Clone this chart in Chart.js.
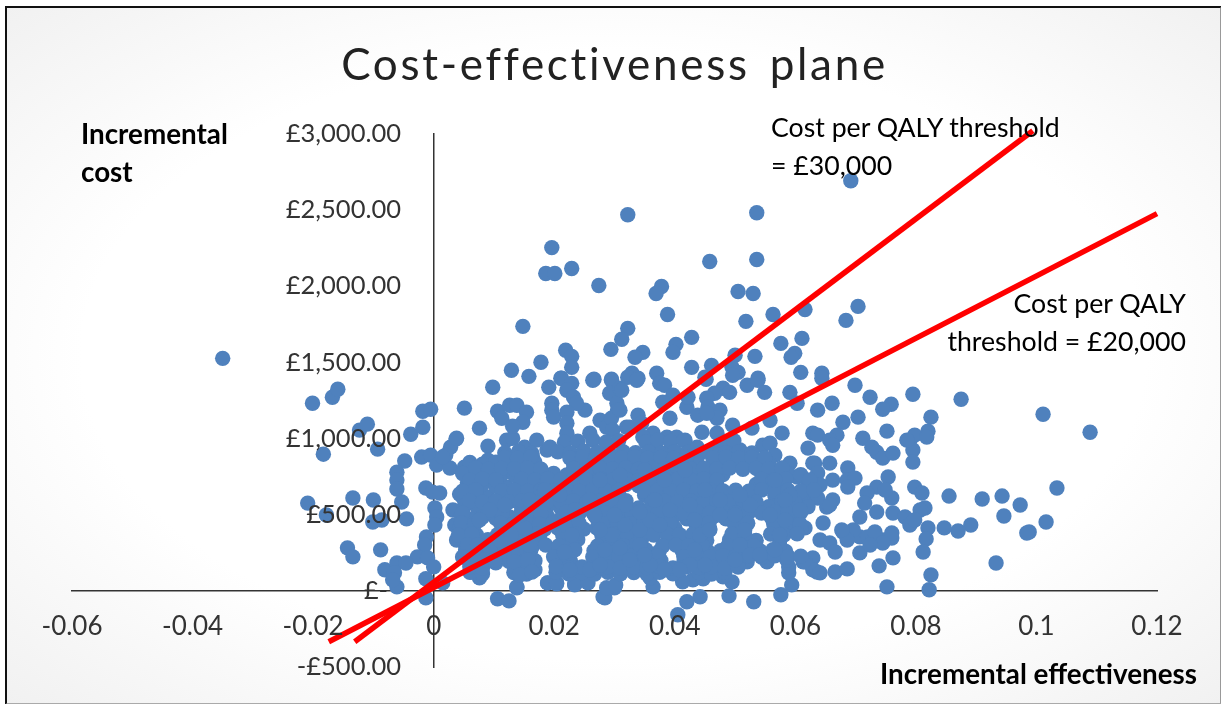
<!DOCTYPE html>
<html>
<head>
<meta charset="utf-8">
<title>Cost-effectiveness plane</title>
<script src="https://cdn.jsdelivr.net/npm/chart.js@4"></script>
<style>
  html, body { margin: 0; padding: 0; background: #fff; }
  #frame {
    position: absolute; left: 5px; top: 6px; width: 1213px; height: 695px;
    border-top: 2px solid #111; border-left: 2px solid #111;
    border-right: 2px solid #999; border-bottom: 2px solid #aaa;
    background: radial-gradient(ellipse at 50% 50%, #fff 62%, #f1f1f1 100%);
  }
  #plane { position: absolute; left: 0; top: 0; }
  .note { position: absolute; font-family: Lato, sans-serif; color: #000; white-space: nowrap; font-size: 26.7px; line-height: 38px; }
  .bold { font-weight: 700; font-size: 27.8px; }
</style>
</head>
<body>
<div id="frame"></div>
<canvas id="plane" width="1221" height="704"></canvas>
<div class="note bold" style="left:81px;top:115px">Incremental<br>cost</div>
<div class="note" style="left:771px;top:108px">Cost per QALY threshold<br>= £30,000</div>
<div class="note" style="right:35px;top:284px;text-align:right">Cost per QALY<br>threshold = £20,000</div>
<div class="note bold" style="right:24px;top:655px">Incremental effectiveness</div>
<script>
// ===== AXIS LABELS =====
// trailing spaces come from the accounting number format
const pad = '\u00a0'.repeat(5);
const xTickLabels = ['-0.06', '-0.04', '-0.02', '0', '0.02', '0.04', '0.06', '0.08', '0.1', '0.12'];
const yTickLabels = ['-£500.00' + pad, '£-' + pad + '\u00a0\u00a0', '£500.00' + pad, '£1,000.00' + pad, '£1,500.00' + pad, '£2,000.00' + pad, '£2,500.00' + pad, '£3,000.00' + pad];

// ===== THRESHOLD LINES [effectiveness, cost] =====
const lineThirty = [[-0.0131, -334], [0.0994, 3020]];
const lineTwenty = [[-0.0174, -334], [0.12, 2476]];

// ===== SIMULATION POINTS [effectiveness, cost] =====
const topPoints = [
  [.0322,2469],[.0536,2482],[.0692,2692],[.0196,2253],[.0186,2083],[.0201,2083],[.0229,2116],[.0274,2004],
  [.0378,1998],[.0369,1952],[.0458,2162],[.0536,2175],[.0505,1965],[.0530,1952],[.0388,1814],[.0563,1814],
  [.0616,1847],[.0518,1769],[.0704,1867],[.0684,1775],[.0148,1736],[.0322,1723],[.0312,1651],[.0294,1585],
  [.0428,1664],[.0402,1618],[.0397,1565],[.0219,1579],[.0229,1539],[.0229,1467],[.0347,1565],[.0334,1533],
  [.0576,1624],[.0611,1657],[.0599,1559],[.0593,1533],[.0533,1539],[.05,1546],[.0178,1500],[.0129,1448],
  [.0158,1408],[.0428,1467],[.0461,1480],[.0609,1434],[.0644,1428],[.0644,1395],[.0495,1467],[.0505,1434],
  [.0496,1415],[.037,1428],[.0329,1428],[.0322,1402],[.0339,1395],[.0212,1395],[.0266,1389],[.0295,1389],
  [.0538,1395],[.0699,1349],[.045,1402]
];
const leftPoints = [
  [-.035,1526],[-.0201,1231],[-.0168,1271],[-.0159,1323],[-.0123,1055],[-.011,1094],[-.0093,930],[-.0183,897],
  [-.0018,1179],[-.0005,1192],[.0051,1199],[-.0038,1028],[-.0018,1074],[.0076,1068],[-.0048,852],[-.0061,779],
  [-.0061,727],[-.0061,668],[-.002,878],[-.0005,891],[.0037,996],[.0028,943],[.002,891],[.0005,825],
  [.0027,806],[.0051,812],[.009,950],[-.0209,576],[-.0134,609],[-.01,596],[-.0053,583],[-.0178,498],
  [-.0101,452],[-.0086,465],[-.0045,472],[-.0143,282],[-.0134,223],[-.0088,269],[-.0013,675],[-.0002,648],
  [.001,642],[.0002,544],[.0005,485],[.0002,432],[-.0012,354],[-.0015,301],[-.0027,223],[-.001,216],
  [0,157],[-.0081,138],[-.0061,183],[-.0046,183],[-.0065,118],[-.0061,26],[-.0068,72],[-.0013,79],
  [-.0013,-46],[.0015,52],[.0106,-52],[.0125,-66],[.0138,20],[.0189,52],[.0204,46],[.0234,46]
];
const upperLeftPoints = [
  [.0043,635],[.0056,707],[.008,747],[.0032,531],[.0046,498],[.0035,432],[.0038,334],[.0051,314],
  [.0071,367],[.0065,583],[.0076,485],[.009,616],[.0105,550],[.0098,727],[.0121,681],[.009,845],
  [.011,825],[.0121,989],[.0131,1002],[.0146,858],[.0151,943],[.0171,989],[.0188,924],[.0164,773],
  [.0143,707],[.0181,773],[.0098,1336],[.0191,1336],[.0211,1395],[.0229,1362],[.0221,1317],[.0232,1271],
  [.0196,1231],[.0196,1186],[.0199,1140],[.0251,1186],[.0237,1231],[.0221,1172],[.0221,1100],[.0221,1035],
  [.0217,976],[.0264,1382],[.0295,1382],[.0106,1179],[.0113,1133],[.0126,1218],[.0138,1218],[.0154,1172],
  [.0148,1107],[.0131,1081],[.0138,871],[.0164,878],[.0193,943],[.009,858],[.0038,1002],[.0015,878],
  [.0292,1297],[.0309,1330],[.0304,1231],[.0305,1186],[.0276,1120],[.0287,1074],[.0295,1133],[.032,1074],
  [.0259,1035],[.0297,1055],[.0337,1382],[.0312,1317],[.0309,1186],[.0339,1153],[.0325,1074],[.0345,1100]
];
const upperRightPoints = [
  [.0375,1362],[.0383,1349],[.0452,1389],[.052,1349],[.0538,1382],[.0549,1303],[.0591,1303],[.0603,1231],
  [.0637,1186],[.0661,1231],[.0397,1284],[.038,1238],[.042,1205],[.0422,1271],[.048,1330],[.0491,1303],
  [.0466,1297],[.0453,1264],[.0455,1205],[.0475,1186],[.0438,1153],[.047,1133],[.0453,1166],[.0392,1133],
  [.0496,1087],[.0445,1041],[.047,1035],[.0528,1068],[.0558,1120],[.0578,1035],[.0546,956],[.0558,969],
  [.0566,891],[.0591,838],[.0621,937],[.0629,1035],[.0632,838],[.0541,838],[.0364,1035],[.0387,1009],
  [.0417,989],[.0403,1009],[.0347,1009],[.0491,943],[.0508,924],[.0437,943],[.042,904],[.0392,924],[.0364,924]
];
const rightPoints = [
  [.0724,1271],[.0759,1225],[.0745,1192],[.0795,1290],[.0875,1258],[.1011,1159],[.1089,1041],[.0704,1140],
  [.0679,1107],[.0752,1048],[.0637,1022],[.0669,1022],[.0657,989],[.0662,956],[.0712,1002],[.0727,943],
  [.0735,910],[.0745,871],[.0762,904],[.079,989],[.0798,1022],[.0795,924],[.0795,845],[.0825,1140],
  [.082,1048],[.0818,1009],[.0785,989],[.0574,779],[.0603,747],[.0629,838],[.0657,838],[.0687,806],
  [.0637,773],[.0629,707],[.0662,727],[.0686,727],[.0699,740],[.0754,747],[.0798,681],[.076,609],
  [.0735,681],[.0719,642],[.0687,681],[.0662,596],[.0652,550],[.0629,629],[.0619,576],[.0646,445],
  [.0616,413],[.0707,485],[.0679,386],[.0707,354],[.0735,517],[.0762,511],[.0782,485],[.079,432],
  [.0696,400],[.072,354],[.0745,334],[.076,347],[.0641,334],[.0657,314],[.0666,255],[.0686,334],
  [.0707,249],[.0729,334],[.0629,216],[.0636,124],[.0666,124],[.0686,144],[.0739,164],[.0762,216],
  [.0749,662],[.0715,576],[.0616,596],[.0637,609],[.0657,563],[.0677,400],[.0732,386],[.076,380],
  [.0745,314],[.0724,301],[.0616,190],[.0629,138],[.0641,118]
];
const farRightPoints = [
  [.081,642],[.0855,622],[.091,603],[.0943,622],[.0973,563],[.0946,491],[.1034,675],[.1016,452],
  [.0988,386],[.0984,380],[.0933,183],[.0891,432],[.087,393],[.0847,413],[.0815,544],[.0807,531],
  [.0798,465],[.082,413],[.0817,341],[.0812,255],[.0825,105],[.0822,7]
];
const axisEdgePoints = [
  [.0752,26],[.0594,39],[.0576,-26],[.0531,-72],[.049,-33],[.0442,-39],[.042,-72],[.0405,-157],
  [.043,72],[.0447,79],[.0413,59],[.0364,26],[.0359,85],[.03,20],[.0284,-46],[.0495,59],
  [.048,92],[.0589,118],[.0589,157],[.052,190],[.0553,190],[.0586,203],[.0613,190],
  [.0076,85],[.0063,124],[.0138,26],[.0168,138],[.0189,52],[.0204,52],[.0234,39],[.0256,52],
  [.0281,-40],[.0287,20],[.0302,39]
];

// dense middle of the cloud, where single points can no longer be told apart
const coreUpper = [
  [.0239,982],[.0264,990],[.0286,975],[.0307,986],[.0352,978],[.0372,990],[.0393,980],[.0415,986],[.048,975],[.0498,985],
  [.0118,905],[.0141,915],[.0163,902],[.0206,912],[.0227,905],[.0249,916],[.0271,908],[.0292,900],[.0314,914],[.0335,906],
  [.0357,912],[.0378,904],[.04,914],[.0422,908],[.0442,902],[.0463,914],[.0485,906],[.0506,912],[.0528,905],
  [.006,842],[.0081,832],[.0103,845],[.0125,835],[.0146,828],[.0168,842],[.0232,835],[.0254,846],[.0276,830],[.0297,840],
  [.0319,833],[.034,845],[.0362,836],[.0383,828],[.0405,842],[.0427,835],[.0437,845],[.047,834],[.0491,842],[.0513,830],[.0535,840],[.0556,834],
  [.0048,770],[.007,760],[.0091,772],[.0113,764],[.0134,758],[.0156,772],[.0178,762],[.0199,770],[.0221,760],[.0242,774],
  [.0264,764],[.0286,758],[.0307,770],[.0329,762],[.035,774],[.0372,766],[.0393,758],[.0415,770],[.0437,762],[.0458,774],
  [.048,764],[.0544,772],[.0566,760],[.0588,770],[.0609,762]
];
const coreMiddle = [
  [.006,690],[.0081,700],[.0103,688],[.0146,698],[.0168,690],[.0189,700],[.0211,686],[.0232,696],[.0254,690],[.0276,702],
  [.0297,688],[.0319,698],[.034,690],[.0362,700],[.0383,686],[.0405,696],[.0427,690],[.0448,702],[.047,688],[.0535,698],
  [.0556,690],[.0578,700],[.0621,690],[.0641,695],
  [.0048,616],[.007,628],[.0113,620],[.0134,630],[.0156,616],[.0178,624],[.0199,630],[.0221,618],[.0242,626],[.0264,616],
  [.0286,630],[.0307,620],[.035,628],[.0372,616],[.0393,626],[.0415,620],[.0437,630],[.0458,616],[.048,624],[.0501,630],
  [.0523,620],[.0566,626],[.0588,616],[.0609,628],
  [.0051,556],[.0073,544],[.0095,552],[.0116,558],[.0146,546],[.0168,552],[.0189,558],[.0211,544],[.0232,552],[.0254,558],
  [.0276,546],[.0297,552],[.0319,558],[.034,544],[.0362,552],[.0383,560],[.0405,546],[.0427,552],[.0448,558],[.047,544],
  [.0491,552],[.0513,558],[.0535,546],[.0556,552],[.0578,558],[.0599,544],[.0621,552],
  [.006,472],[.0081,484],[.0103,476],[.0125,486],[.0146,470],[.0168,480],[.0189,486],[.0211,472],[.0232,480],[.0269,486],
  [.0291,472],[.0312,480],[.0334,486],[.0355,470],[.0377,480],[.0398,486],[.042,472],[.0442,480],[.0463,486],[.0485,472],
  [.0506,480],[.0561,476],[.0583,484],[.0604,472]
];
const coreLower = [
  [.0043,410],[.0065,400],[.012,404],[.0141,412],[.0163,398],[.0184,406],[.0206,412],[.0227,400],[.0249,406],[.0271,412],
  [.0292,398],[.0314,406],[.0335,412],[.0357,400],[.0378,406],[.04,412],[.0437,400],[.0458,406],[.0505,412],[.0566,400],
  [.0588,406],[.0609,412],
  [.0048,340],[.0068,328],[.009,336],[.0111,342],[.0133,330],[.0154,336],[.0176,342],[.0217,330],[.0239,336],[.0281,342],
  [.0302,330],[.0324,336],[.0345,342],[.0388,330],[.041,336],[.0432,342],[.0453,330],[.0491,336],[.0513,342],[.0535,330],[.0574,336],
  [.0053,268],[.0075,256],[.0096,264],[.0118,270],[.0139,258],[.0161,264],[.0203,270],[.0224,258],[.0266,264],[.0287,270],
  [.0309,258],[.033,264],[.0352,270],[.0374,258],[.0412,264],[.0433,270],[.0455,258],[.0476,264],[.0498,270],[.052,258],
  [.0541,264],[.0563,270],[.0584,258],
  [.006,186],[.0081,196],[.0103,184],[.0125,194],[.0146,186],[.0168,198],[.0206,184],[.0227,194],[.0269,186],[.0291,198],
  [.0312,184],[.0334,194],[.0355,186],[.0377,198],[.0415,184],[.0437,194],[.0458,186],[.048,198],[.0501,184],
  [.006,122],[.0081,112],[.0133,120],[.0154,110],[.0203,122],[.0224,112],[.0246,120],[.0267,110],[.0289,122],[.031,112],
  [.0332,120],[.0354,110],[.0375,122],[.0397,112],[.044,120],[.0461,110],[.0483,122]
];
const coreFillA = [
  [.0118,876],[.0139,870],[.0161,878],[.0226,872],[.0247,878],[.0269,870],[.0291,876],[.0312,872],[.0334,880],[.0355,870],
  [.0377,876],[.0398,870],[.042,878],[.0463,872],[.0485,878],[.0506,870],[.0528,876],[.0549,872],
  [.007,806],[.0091,798],[.0113,804],[.0134,800],[.0156,808],[.0178,798],[.0232,804],[.0254,798],[.0276,806],[.0297,800],
  [.0319,808],[.034,798],[.0362,804],[.0383,800],[.0405,808],[.0427,798],[.0448,804],[.047,800],[.0491,806],[.0513,798],
  [.0535,804],[.0556,800],[.0578,806],
  [.006,726],[.0081,734],[.0103,728],[.0146,732],[.0168,726],[.0189,734],[.0211,728],[.0232,732],[.0254,726],[.0276,734],
  [.0297,728],[.0319,732],[.034,726],[.0362,734],[.0383,728],[.0405,732],[.0427,726],[.0448,734],[.047,728],[.0544,732],
  [.0563,726],[.0584,734],[.0624,728],
  [.0048,654],[.007,662],[.0113,656],[.0134,660],[.0156,654],[.0178,662],[.0199,656],[.0221,660],[.0242,654],[.0264,662],
  [.0286,656],[.0307,660],[.035,654],[.0372,662],[.0393,656],[.0415,660],[.0437,654],[.0458,662],[.048,656],[.0501,660],
  [.0523,654],[.0544,662],[.0566,656],[.0588,660],[.0609,654],[.0631,662]
];
const coreFillB = [
  [.006,590],[.0081,582],[.0103,588],[.0125,584],[.0146,592],[.0168,582],[.0189,588],[.0211,584],[.0232,590],[.0254,582],
  [.0276,588],[.0297,584],[.0319,592],[.0362,582],[.0383,588],[.0405,584],[.0427,590],[.0448,582],[.047,588],[.0491,584],
  [.0513,592],[.0535,582],[.0578,588],[.0599,584],
  [.0048,510],[.0091,518],[.0113,512],[.0156,516],[.0178,510],[.0221,518],[.0242,512],[.0264,516],[.0286,510],[.0307,518],
  [.0329,512],[.035,516],[.0372,510],[.0393,518],[.0415,512],[.0437,516],[.0458,510],[.048,518],[.0501,512],[.0523,516],
  [.0544,510],[.0566,518],[.0588,512],[.0609,516],
  [.0046,446],[.0068,438],[.0111,444],[.0133,440],[.0154,448],[.0176,438],[.0198,444],[.0219,440],[.0241,446],[.0284,438],
  [.0305,444],[.0327,440],[.0349,448],[.037,438],[.0392,444],[.0435,440],[.0457,446],[.0499,438],[.0521,444],[.0564,440],
  [.0586,446],[.0608,438],
  [.0041,366],[.0063,374],[.0106,368],[.0128,372],[.0149,366],[.0171,374],[.0214,368],[.0236,372],[.0279,366],[.03,374],
  [.0322,368],[.0344,372],[.0365,366],[.0387,374],[.0408,368],[.043,372],[.0452,366],[.0495,374],[.0516,368],[.0559,372],
  [.0581,366],[.0603,374]
];
const coreFillC = [
  [.0056,302],[.0078,294],[.01,300],[.0121,296],[.0143,304],[.0164,294],[.0186,300],[.0208,296],[.0229,302],[.0272,294],
  [.0294,300],[.0315,296],[.0337,304],[.038,294],[.0402,300],[.0423,296],[.0445,302],[.0488,294],[.051,300],[.0531,296],[.0574,302],
  [.0048,222],[.007,230],[.0091,224],[.0113,228],[.0134,222],[.0156,230],[.0199,224],[.0221,228],[.0264,222],[.0286,230],
  [.0307,224],[.0329,228],[.035,222],[.0372,230],[.0415,224],[.0437,228],[.0458,222],[.048,230],[.0501,224],[.0523,228],
  [.0544,222],[.0566,230],[.0588,224],[.0609,228],
  [.006,158],[.0081,150],[.0134,156],[.0156,152],[.0203,160],[.0224,150],[.0246,156],[.0267,152],[.0289,158],[.031,150],
  [.0332,156],[.0354,152],[.0375,160],[.0397,150],[.0418,156],[.044,152],[.0461,158],[.0483,150],[.0505,156]
];
const coreGaps = [
  [.0073,301],[.0093,282],[.011,334],[.0129,367],[.0151,413],[.0139,282],[.0159,301],[.0134,190],[.0156,203],[.0143,105],[.0163,124],
  [.0217,432],[.0229,367],[.0234,269],[.0217,255],[.0226,138],[.0259,138],[.0276,170],[.0284,269],[.0295,367],[.0276,400],
  [.0309,282],[.0325,203],[.0342,301],[.0317,432],[.0342,400],[.0359,465],[.0342,517],[.0317,563],[.03,498],
  [.0433,465],[.0442,367],[.0433,269],[.045,170],[.0425,170],[.0408,138],[.0383,138],[.0359,170],[.035,236],
  [.0458,400],[.0475,498],[.05,498],[.0516,400],[.0508,301],[.0525,236],[.05,203],[.0541,236],[.0566,269],[.0574,367],
  [.0583,465],[.0558,498],[.0525,563],[.0209,629],[.0184,662],[.0159,596],[.0143,498],[.0118,563],[.0093,531],[.0076,465],
  [.0276,727],[.0309,760],[.035,793],[.0383,727],[.0417,793],[.045,662],[.0475,596],[.0508,629],[.0425,563],[.0392,531],
  [.0367,596],[.0375,432],[.0259,596],[.0234,531],[.0267,498],[.0566,727],[.0591,629],[.0608,531],[.0583,596],
  [.006,203],[.0085,203],[.0101,203]
];

const simulationPoints = [
  ...topPoints, ...leftPoints, ...upperLeftPoints, ...upperRightPoints, ...rightPoints, ...farRightPoints,
  ...axisEdgePoints, ...coreUpper, ...coreMiddle, ...coreLower, ...coreFillA, ...coreFillB, ...coreFillC, ...coreGaps
];
const toXY = ([x, y]) => ({ x, y });

// ===== TITLE SPACING =====
// the title is drawn before the datasets, tick labels after them
const titleSpacing = {
  id: 'titleSpacing',
  beforeDraw(chart) {
    chart.ctx.letterSpacing = '2.7px';
    chart.ctx.wordSpacing = '6px';
  },
  beforeDatasetsDraw(chart) {
    chart.ctx.letterSpacing = '0px';
    chart.ctx.wordSpacing = '0px';
  },
};

// ===== CHART =====
new Chart(document.getElementById('plane').getContext('2d'), {
  type: 'scatter',
  plugins: [titleSpacing],
  data: {
    datasets: [
      {
        label: 'Threshold £30,000',
        data: lineThirty.map(toXY),
        showLine: true,
        borderColor: '#ff0000',
        borderWidth: 5.5,
        pointRadius: 0,
        clip: false,
        order: 1,
      },
      {
        label: 'Threshold £20,000',
        data: lineTwenty.map(toXY),
        showLine: true,
        borderColor: '#ff0000',
        borderWidth: 5.5,
        pointRadius: 0,
        clip: false,
        order: 1,
      },
      {
        label: 'Simulations',
        data: simulationPoints.map(toXY),
        backgroundColor: '#4f81bd',
        borderWidth: 0,
        pointRadius: 7.7,
        pointHoverRadius: 7.7,
        order: 2,
      },
    ],
  },
  options: {
    responsive: false,
    animation: false,
    layout: { padding: { left: 72, right: 64, top: 0, bottom: 37 } },
    plugins: {
      legend: { display: false },
      tooltip: { enabled: false },
      title: {
        display: true,
        text: 'Cost-effectiveness plane',
        color: '#222',
        font: { family: 'Lato, sans-serif', size: 44, weight: 'normal' },
        padding: { top: 39, bottom: 42 },
      },
    },
    scales: {
      x: {
        type: 'linear',
        min: -0.06,
        max: 0.12,
        position: { y: 0 },
        grid: { display: false, drawTicks: false },
        border: { color: '#333', width: 1.5 },
        ticks: {
          stepSize: 0.02,
          padding: 20,
          z: 1,
          color: '#333',
          font: { family: 'Lato, sans-serif', size: 26 },
          maxRotation: 0,
          autoSkip: false,
          callback: (value, i) => xTickLabels[i],
        },
      },
      y: {
        type: 'linear',
        min: -500,
        max: 3000,
        position: { x: 0 },
        grid: { display: false, drawTicks: false },
        border: { color: '#333', width: 1.5 },
        ticks: {
          stepSize: 500,
          z: 1,
          color: '#333',
          font: { family: 'Lato, sans-serif', size: 25.5 },
          autoSkip: false,
          callback: (value, i) => yTickLabels[i],
        },
      },
    },
  },
});
</script>
</body>
</html>
